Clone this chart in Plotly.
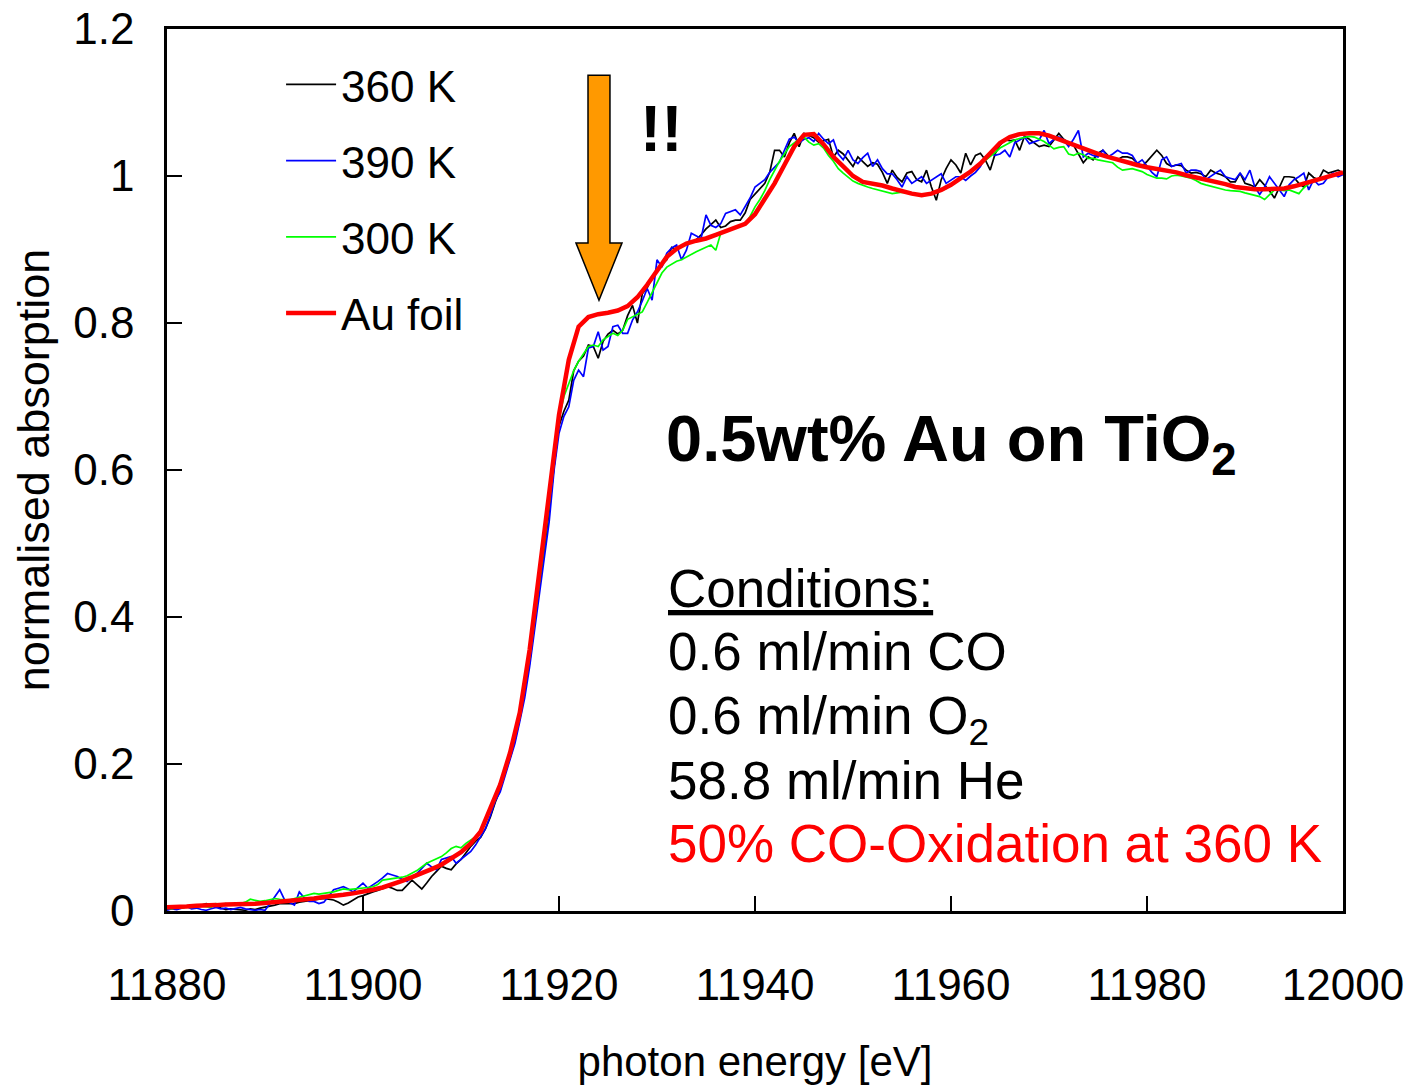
import numpy as np
import plotly.graph_objects as go

# ---- measured spectra -------------------------------------------------------
# Sample spectra are on a 0.5 eV grid, the Au foil reference on a 1 eV grid.
energy_samples = np.arange(11880, 12000.01, 0.5)
energy_foil = np.arange(11880, 12000.01, 1.0)

abs_360K = [
    0.002, 0.003, 0.004, 0.005, 0.005, 0.007, 0.006, 0.008, 0.010, 0.008, 0.007, 0.004, 0.002, 0.003, 0.002, 0.001, 0.001, 0.003, 0.002, 0.004,
    0.005, 0.007, 0.008, 0.010, 0.010, 0.011, 0.010, 0.012, 0.013, 0.014, 0.015, 0.016, 0.017, 0.016, 0.015, 0.012, 0.008, 0.011, 0.015, 0.019,
    0.021, 0.024, 0.026, 0.028, 0.030, 0.033, 0.031, 0.028, 0.028, 0.035, 0.042, 0.036, 0.030, 0.038, 0.047, 0.054, 0.061, 0.058, 0.056, 0.064,
    0.070, 0.079, 0.088, 0.095, 0.100, 0.112, 0.128, 0.148, 0.165, 0.188, 0.208, 0.232, 0.262, 0.298, 0.338, 0.390, 0.440, 0.495, 0.545, 0.605,
    0.660, 0.680, 0.695, 0.735, 0.748, 0.755, 0.770, 0.768, 0.752, 0.775, 0.785, 0.790, 0.785, 0.790, 0.810, 0.824, 0.800, 0.840, 0.848, 0.862,
    0.872, 0.880, 0.886, 0.903, 0.900, 0.905, 0.908, 0.911, 0.913, 0.920, 0.928, 0.934, 0.940, 0.930, 0.932, 0.938, 0.940, 0.940, 0.950, 0.968,
    0.975, 0.982, 0.990, 1.005, 1.035, 1.035, 1.026, 1.045, 1.058, 1.040, 1.058, 1.055, 1.052, 1.046, 1.048, 1.050, 1.026, 1.035, 1.030, 1.022,
    1.013, 1.026, 1.020, 1.013, 1.018, 1.016, 1.005, 0.990, 1.008, 0.998, 0.992, 1.004, 1.006, 0.995, 0.992, 1.008, 0.985, 0.967, 0.995, 1.010,
    1.022, 1.015, 1.004, 1.031, 1.015, 1.028, 1.031, 1.022, 1.008, 1.030, 1.042, 1.049, 1.048, 1.049, 1.035, 1.054, 1.050, 1.045, 1.040, 1.042,
    1.040, 1.049, 1.058, 1.050, 1.045, 1.042, 1.030, 1.018, 1.026, 1.022, 1.031, 1.035, 1.028, 1.024, 1.022, 1.026, 1.026, 1.024, 1.018, 1.013,
    1.020, 1.028, 1.035, 1.028, 1.017, 1.013, 1.015, 1.014, 1.008, 1.004, 1.005, 1.003, 0.999, 1.008, 1.004, 1.002, 0.999, 0.992, 0.992, 1.004,
    0.990, 0.988, 0.985, 0.995, 0.987, 0.980, 0.970, 0.985, 0.999, 0.999, 0.998, 0.990, 0.985, 1.004, 0.998, 0.995, 1.008, 1.004, 1.006, 1.008,
    1.004,
]

abs_390K = [
    0.001, 0.003, 0.002, 0.004, 0.006, 0.003, 0.004, 0.002, 0.001, 0.003, 0.005, 0.003, 0.004, 0.002, 0.004, 0.005, 0.003, 0.002, 0.001, 0.002,
    0.001, 0.010, 0.020, 0.029, 0.015, 0.012, 0.008, 0.026, 0.018, 0.013, 0.013, 0.010, 0.012, 0.020, 0.029, 0.031, 0.033, 0.030, 0.026, 0.032,
    0.038, 0.031, 0.035, 0.040, 0.045, 0.051, 0.049, 0.047, 0.043, 0.040, 0.046, 0.051, 0.058, 0.065, 0.060, 0.056, 0.070, 0.072, 0.074, 0.065,
    0.070, 0.076, 0.081, 0.090, 0.102, 0.112, 0.130, 0.150, 0.162, 0.185, 0.205, 0.228, 0.258, 0.290, 0.332, 0.380, 0.430, 0.480, 0.530, 0.600,
    0.650, 0.673, 0.686, 0.722, 0.736, 0.727, 0.766, 0.768, 0.788, 0.763, 0.768, 0.795, 0.797, 0.786, 0.786, 0.804, 0.815, 0.830, 0.847, 0.831,
    0.886, 0.876, 0.895, 0.902, 0.906, 0.886, 0.899, 0.922, 0.918, 0.915, 0.947, 0.933, 0.930, 0.935, 0.949, 0.952, 0.954, 0.947, 0.958, 0.970,
    0.985, 0.990, 0.995, 1.005, 1.012, 1.019, 1.035, 1.050, 1.053, 1.045, 1.050, 1.052, 1.047, 1.058, 1.050, 1.044, 1.049, 1.030, 1.022, 1.035,
    1.022, 1.017, 1.025, 1.031, 1.013, 1.022, 1.010, 1.003, 1.003, 0.995, 0.985, 0.999, 0.990, 0.995, 0.999, 0.990, 0.994, 0.998, 1.003, 0.990,
    0.995, 0.999, 0.999, 0.994, 1.000, 1.005, 1.013, 1.026, 1.031, 1.028, 1.030, 1.035, 1.026, 1.045, 1.049, 1.053, 1.044, 1.046, 1.049, 1.062,
    1.044, 1.050, 1.053, 1.049, 1.040, 1.050, 1.062, 1.026, 1.031, 1.028, 1.026, 1.035, 1.026, 1.030, 1.035, 1.031, 1.031, 1.028, 1.017, 1.022,
    1.013, 1.005, 0.999, 1.022, 1.026, 1.013, 1.015, 1.017, 1.004, 1.008, 1.008, 1.006, 0.995, 1.000, 1.004, 1.008, 0.999, 0.997, 0.995, 1.004,
    0.995, 1.008, 0.985, 0.975, 0.985, 0.999, 0.990, 0.980, 0.972, 0.988, 0.995, 0.999, 1.004, 0.981, 0.995, 0.988, 0.990, 0.999, 1.004, 0.999,
    1.002,
]

abs_300K = [
    0.004, 0.003, 0.005, 0.004, 0.006, 0.005, 0.006, 0.007, 0.006, 0.005, 0.010, 0.009, 0.010, 0.008, 0.008, 0.010, 0.012, 0.016, 0.015, 0.013,
    0.014, 0.015, 0.017, 0.016, 0.015, 0.015, 0.017, 0.019, 0.020, 0.022, 0.024, 0.023, 0.024, 0.024, 0.026, 0.028, 0.030, 0.029, 0.030, 0.030,
    0.031, 0.032, 0.033, 0.036, 0.042, 0.043, 0.043, 0.044, 0.046, 0.048, 0.051, 0.055, 0.060, 0.065, 0.068, 0.071, 0.074, 0.079, 0.085, 0.088,
    0.086, 0.092, 0.097, 0.101, 0.110, 0.122, 0.138, 0.155, 0.170, 0.192, 0.215, 0.240, 0.270, 0.305, 0.345, 0.395, 0.445, 0.500, 0.555, 0.615,
    0.670, 0.700, 0.718, 0.735, 0.748, 0.758, 0.768, 0.770, 0.768, 0.777, 0.782, 0.786, 0.783, 0.790, 0.805, 0.808, 0.812, 0.815, 0.828, 0.842,
    0.855, 0.868, 0.876, 0.880, 0.884, 0.886, 0.890, 0.893, 0.897, 0.900, 0.903, 0.906, 0.899, 0.922, 0.924, 0.927, 0.929, 0.932, 0.935, 0.945,
    0.958, 0.968, 0.980, 0.995, 1.008, 1.020, 1.030, 1.040, 1.045, 1.050, 1.053, 1.046, 1.042, 1.044, 1.038, 1.028, 1.020, 1.010, 1.004, 0.998,
    0.993, 0.990, 0.987, 0.985, 0.983, 0.981, 0.980, 0.978, 0.976, 0.977, 0.978, 0.977, 0.976, 0.975, 0.974, 0.975, 0.976, 0.978, 0.980, 0.983,
    0.988, 0.993, 0.998, 1.003, 1.007, 1.012, 1.016, 1.021, 1.026, 1.032, 1.038, 1.042, 1.046, 1.049, 1.051, 1.053, 1.054, 1.053, 1.050, 1.047,
    1.042, 1.037, 1.039, 1.040, 1.030, 1.028, 1.031, 1.029, 1.024, 1.024, 1.022, 1.021, 1.019, 1.018, 1.012, 1.008, 1.009, 1.010, 1.008, 1.006,
    1.002, 0.999, 0.997, 0.997, 0.996, 1.000, 1.001, 1.000, 0.999, 0.997, 0.994, 0.990, 0.988, 0.986, 0.985, 0.983, 0.981, 0.980, 0.980, 0.979,
    0.977, 0.975, 0.974, 0.972, 0.968, 0.974, 0.981, 0.981, 0.980, 0.981, 0.978, 0.976, 0.984, 0.990, 0.995, 0.996, 0.998, 0.999, 1.001, 1.004,
    1.005,
]

abs_au_foil = [
    0.005, 0.005, 0.006, 0.007, 0.007, 0.008, 0.009, 0.009, 0.010, 0.010,
    0.011, 0.012, 0.013, 0.014, 0.016, 0.017, 0.019, 0.020, 0.022, 0.024,
    0.026, 0.029, 0.032, 0.036, 0.041, 0.046, 0.051, 0.057, 0.063, 0.071,
    0.080, 0.092, 0.108, 0.140, 0.172, 0.215, 0.270, 0.355, 0.462, 0.565,
    0.675, 0.750, 0.795, 0.808, 0.812, 0.814, 0.817, 0.823, 0.835, 0.852,
    0.872, 0.890, 0.901, 0.908, 0.912, 0.915, 0.920, 0.925, 0.930, 0.935,
    0.948, 0.968, 0.990, 1.015, 1.040, 1.056, 1.057, 1.043, 1.026, 1.013,
    1.000, 0.992, 0.990, 0.987, 0.983, 0.979, 0.976, 0.974, 0.976, 0.981,
    0.988, 0.997, 1.006, 1.017, 1.032, 1.045, 1.053, 1.057, 1.058, 1.058,
    1.055, 1.050, 1.045, 1.039, 1.034, 1.030, 1.026, 1.022, 1.018, 1.015,
    1.012, 1.010, 1.007, 1.005, 1.001, 0.998, 0.996, 0.992, 0.989, 0.985,
    0.983, 0.982, 0.982, 0.982, 0.983, 0.986, 0.990, 0.994, 0.998, 1.002,
    1.005,
]

x_tick_values = [11880, 11900, 11920, 11940, 11960, 11980, 12000]
x_tick_labels = ["11880", "11900", "11920", "11940", "11960", "11980", "12000"]
y_tick_values = [0, 0.2, 0.4, 0.6, 0.8, 1.0, 1.2]
y_tick_labels = ["0", "0.2", "0.4", "0.6", "0.8", "1", "1.2"]

FONT = "Liberation Sans, Arial, Helvetica, sans-serif"

fig = go.Figure()

series = [
    ("360 K", abs_360K, energy_samples, "#000000", 1.7),
    ("390 K", abs_390K, energy_samples, "#0000FF", 1.7),
    ("300 K", abs_300K, energy_samples, "#00FF00", 1.7),
    ("Au foil", abs_au_foil, energy_foil, "#FF0000", 4.5),
]
for rank, (name, values, energy, color, width) in enumerate(series):
    fig.add_trace(go.Scatter(
        x=energy, y=values, mode="lines", name=name,
        line=dict(color=color, width=width),
        legendgroup=name, legendrank=rank + 1,
    ))

# orange arrow marking the white-line region
fig.add_shape(
    type="path", xref="x", yref="y",
    path=("M 11922.96,1.137 L 11925.20,1.137 L 11925.20,0.909 L 11926.43,0.909 "
          "L 11924.08,0.831 L 11921.73,0.909 L 11922.96,0.909 Z"),
    fillcolor="#FF9900", line=dict(color="#000000", width=1.5), layer="above",
)

def label(text, x, y, size, color="#000000", bold=False):
    fig.add_annotation(
        text=text, x=x, y=y, xref="paper", yref="paper",
        xanchor="left", yanchor="middle", showarrow=False,
        font=dict(family=FONT, size=size, color=color,
                  weight="bold" if bold else "normal"),
    )

label("!!", 0.4005, 0.8866, 64, bold=True)
label("0.5wt% Au on TiO<sub>2</sub>", 0.4225, 0.5295, 65, bold=True)
label("<u>Conditions:</u>", 0.4240, 0.3662, 53)
label("0.6 ml/min CO", 0.4240, 0.2937, 53)
label("0.6 ml/min O<sub>2</sub>", 0.4240, 0.2170, 53)
label("58.8 ml/min He", 0.4240, 0.1485, 53)
label("50% CO-Oxidation at 360 K", 0.4240, 0.0760, 53, color="#FF0000")

axis_common = dict(
    ticks="inside", ticklen=15, tickwidth=2, tickcolor="#000000",
    showline=True, linewidth=2.5, linecolor="#000000", mirror=True,
    showgrid=False, zeroline=False, automargin=False,
    ticklabeloverflow="allow",
    tickfont=dict(family=FONT, size=44, color="#000000"),
)

fig.update_layout(
    width=1409, height=1087,
    margin=dict(l=167, r=66, t=29, b=176),
    paper_bgcolor="#FFFFFF", plot_bgcolor="#FFFFFF",
    font=dict(family=FONT, color="#000000"),
    xaxis=dict(
        range=[11880, 12000], tickmode="array",
        tickvals=x_tick_values, ticktext=x_tick_labels,
        ticklabelstandoff=33,
        title=dict(text="photon energy [eV]", standoff=40,
                   font=dict(family=FONT, size=42, color="#000000")),
        **axis_common,
    ),
    yaxis=dict(
        range=[0, 1.2], tickmode="array",
        tickvals=y_tick_values, ticktext=y_tick_labels,
        ticklabelstandoff=21,
        title=dict(text="normalised absorption", standoff=10,
                   font=dict(family=FONT, size=45, color="#000000")),
        **axis_common,
    ),
    showlegend=True,
    legend=dict(
        x=0.097, y=0.977, xanchor="left", yanchor="top",
        bgcolor="rgba(0,0,0,0)", borderwidth=0,
        font=dict(family=FONT, size=44, color="#000000"),
        tracegroupgap=16, itemwidth=50,
    ),
)

fig.write_html("out.html")
